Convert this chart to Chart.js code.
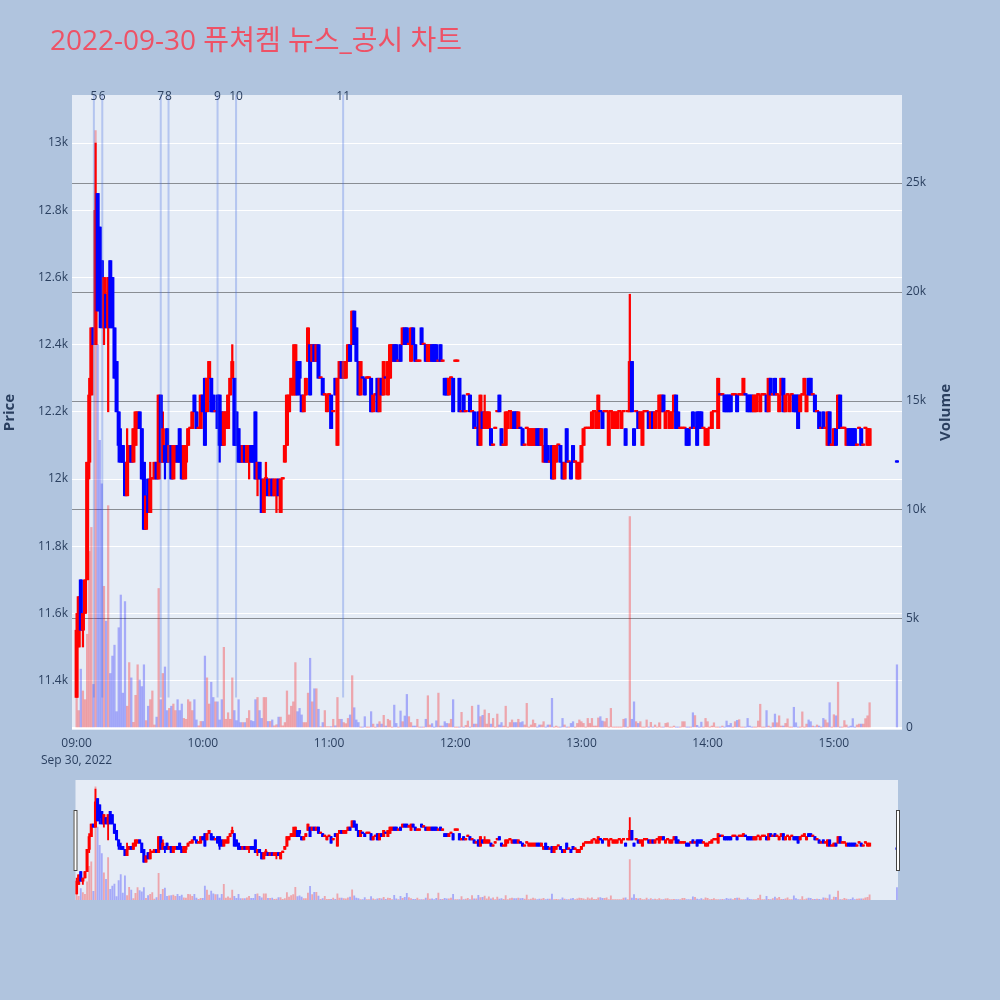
<!DOCTYPE html>
<html>
<head>
<meta charset="utf-8">
<script src="https://cdn.jsdelivr.net/npm/chart.js@4.4.0/dist/chart.umd.min.js"></script>
<style>
    body { margin: 0; background: #b0c4de; }
    #wrap { position: relative; width: 1000px; height: 1000px; }
    canvas { position: absolute; left: 0; }
</style>
</head>
<body>
<div id="wrap">
    <canvas id="main" width="1000" height="1000" style="top:0"></canvas>
    <canvas id="slider" width="1000" height="130" style="top:775px"></canvas>
</div>
<script>
// one candle per minute from 09:00 (index = minutes after the open)
const opens = [
    11350,11500,11700,11550,11600,11700,12050,12250,12450,12400,
    12850,12750,12650,12450,12550,12450,12650,12600,12450,12350,
    12200,12100,12100,12050,11950,12050,12100,12050,12100,12150,
    12200,12150,12050,11850,12000,11900,12000,12000,12050,12000,
    12250,12050,12100,12150,12050,12100,12000,12050,12100,12150,
    12050,12000,12050,12100,12150,12150,12250,12200,12150,12150,
    12250,12300,12200,12300,12300,12250,12200,12250,12250,12200,
    12100,12150,12150,12250,12300,12300,12200,12150,12100,12050,
    12100,12050,12050,12100,12100,12200,12000,12050,12000,11900,
    12000,12000,11950,12000,11950,11950,12000,11900,12000,12050,
    12100,12200,12250,12250,12250,12350,12350,12250,12200,12250,
    12350,12400,12350,12400,12350,12400,12300,12300,12250,12200,
    12250,12250,12200,12300,12100,12300,12350,12300,12300,12350,
    12400,12400,12500,12450,12350,12250,12300,12300,12300,12300,
    12300,12200,12250,12300,12200,12300,12250,12300,12250,12300,
    12350,12400,12400,12350,12400,12400,12450,12450,12400,12350,
    12450,12400,12350,12350,12450,12400,12400,12350,12350,12400,
    12400,12400,12350,12400,12350,12300,12300,12250,12300,12300,
    12350,12350,12300,12200,12250,12200,12250,12250,12200,12200,
    12150,12200,12100,12200,12150,12150,12150,12150,12100,12150,
    12200,12250,12150,12100,12100,12150,12200,12150,12200,12200,
    12150,12150,12150,12100,12150,12100,12100,12100,12100,12150,
    12150,12100,12050,12150,12100,12050,12100,12000,12050,12100,
    12100,12050,12000,12150,12050,12050,12100,12050,12000,12000,
    12050,12100,12150,12150,12150,12150,12200,12150,12150,12200,
    12200,12200,12200,12100,12200,12150,12150,12150,12200,12150,
    12200,12150,12200,12200,12350,12150,12200,12200,12150,12100,
    12200,12200,12200,12150,12200,12150,12200,12150,12200,12250,
    12150,12200,12150,12150,12200,12250,12200,12150,12150,12150,
    12150,12150,12150,12200,12150,12200,12200,12200,12150,12100,
    12100,12150,12150,12200,12200,12150,12250,12250,12250,12250,
    12250,12250,12250,12250,12250,12250,12250,12250,12250,12250,
    12250,12250,12200,12200,12250,12200,12250,12250,12250,12200,
    12300,12250,12300,12250,12200,12250,12300,12200,12250,12200,
    12250,12250,12250,12250,12200,12250,12250,12200,12300,12300,
    12250,12250,12200,12200,12150,12200,12150,12100,12200,12100,
    12100,12150,12150,12250,12150,12150,12100,12150,12150,12150,
    12150,12100,12150,12150,12100,12150,12100,12100
];
const highs = [
    11600,11650,11700,11600,11700,12050,12300,12450,12450,13000,
    12850,12750,12650,12600,12550,12600,12650,12600,12450,12350,
    12200,12150,12100,12050,12150,12100,12100,12150,12200,12200,
    12200,12150,12050,11950,12000,12050,12000,12050,12050,12250,
    12250,12200,12100,12150,12100,12100,12100,12100,12100,12150,
    12100,12100,12100,12150,12150,12200,12250,12200,12150,12250,
    12250,12300,12300,12350,12300,12250,12200,12250,12250,12200,
    12200,12200,12250,12300,12400,12300,12200,12150,12100,12100,
    12100,12100,12100,12100,12100,12200,12050,12050,12000,12000,
    12050,12000,12000,12000,12000,12000,12000,12000,12000,12100,
    12250,12250,12300,12400,12400,12350,12350,12250,12250,12300,
    12450,12400,12400,12400,12400,12400,12300,12300,12250,12250,
    12250,12250,12200,12300,12300,12350,12350,12350,12350,12400,
    12400,12500,12500,12450,12350,12350,12300,12300,12300,12300,
    12300,12250,12250,12300,12300,12300,12350,12300,12350,12400,
    12400,12400,12400,12350,12400,12450,12450,12450,12400,12450,
    12450,12400,12350,12350,12450,12400,12400,12400,12400,12400,
    12400,12400,12350,12400,12350,12300,12300,12300,12300,12300,
    12350,12350,12300,12200,12250,12200,12250,12250,12200,12200,
    12150,12200,12250,12200,12250,12200,12200,12150,12100,12150,
    12200,12250,12150,12100,12200,12200,12200,12200,12200,12200,
    12200,12150,12150,12100,12150,12150,12150,12150,12150,12150,
    12150,12150,12100,12150,12100,12050,12100,12100,12100,12100,
    12100,12050,12050,12150,12050,12050,12100,12050,12050,12050,
    12100,12150,12150,12150,12150,12200,12200,12200,12250,12200,
    12200,12200,12200,12200,12200,12200,12200,12200,12200,12200,
    12200,12150,12200,12550,12350,12150,12200,12200,12200,12200,
    12200,12200,12200,12200,12200,12200,12200,12250,12250,12250,
    12200,12200,12200,12200,12250,12250,12200,12150,12150,12150,
    12150,12150,12150,12200,12150,12200,12200,12200,12150,12150,
    12150,12150,12200,12200,12200,12300,12250,12250,12250,12250,
    12250,12250,12250,12250,12250,12250,12250,12300,12250,12250,
    12250,12250,12250,12250,12250,12250,12250,12250,12250,12300,
    12300,12250,12300,12250,12250,12300,12300,12250,12250,12250,
    12250,12250,12250,12250,12250,12250,12300,12250,12300,12300,
    12250,12250,12200,12200,12150,12200,12150,12200,12200,12100,
    12150,12150,12250,12250,12150,12150,12150,12150,12150,12150,
    12150,12100,12150,12150,12100,12150,12150,12150
];
const lows = [
    11350,11500,11550,11500,11600,11700,12000,12250,12400,12400,
    12500,12450,12450,12400,12450,12200,12450,12450,12300,12200,
    12050,12050,12050,11950,11950,12050,12050,12050,12100,12150,
    12150,12000,11850,11850,11900,11900,12000,12000,12000,12000,
    12050,12050,12000,12050,12050,12000,12000,12050,12050,12050,
    12000,12000,12000,12100,12150,12150,12200,12150,12150,12150,
    12200,12100,12200,12300,12200,12200,12200,12150,12050,12100,
    12100,12150,12150,12250,12300,12100,12100,12050,12050,12050,
    12050,12050,12000,12050,12050,12000,11950,12000,11900,11900,
    11950,11950,11950,11950,11950,11900,11950,11900,12000,12050,
    12100,12200,12250,12250,12250,12250,12250,12200,12200,12250,
    12350,12250,12350,12350,12350,12300,12300,12250,12250,12200,
    12250,12150,12200,12250,12100,12300,12300,12300,12300,12350,
    12350,12400,12400,12350,12250,12250,12300,12250,12300,12300,
    12200,12200,12250,12200,12200,12250,12250,12300,12250,12300,
    12350,12350,12350,12350,12350,12400,12400,12400,12400,12350,
    12400,12350,12350,12350,12400,12400,12350,12350,12350,12350,
    12350,12350,12350,12350,12350,12250,12250,12250,12300,12200,
    12350,12350,12200,12200,12200,12200,12250,12200,12200,12150,
    12150,12100,12100,12150,12150,12150,12150,12100,12100,12150,
    12200,12200,12100,12100,12100,12150,12200,12150,12150,12150,
    12150,12150,12100,12100,12150,12100,12100,12100,12100,12100,
    12100,12100,12050,12050,12050,12050,12000,12000,12050,12100,
    12050,12000,12000,12050,12050,12000,12050,12050,12000,12000,
    12050,12100,12150,12150,12150,12150,12200,12150,12150,12200,
    12150,12200,12200,12100,12200,12150,12150,12150,12200,12150,
    12200,12100,12200,12200,12200,12100,12200,12150,12150,12100,
    12200,12200,12150,12150,12150,12150,12200,12150,12200,12200,
    12150,12200,12150,12150,12200,12150,12150,12150,12150,12150,
    12100,12100,12150,12150,12150,12100,12150,12150,12150,12100,
    12100,12150,12150,12200,12200,12150,12250,12250,12200,12200,
    12200,12200,12250,12250,12200,12250,12250,12250,12250,12200,
    12200,12200,12200,12200,12250,12200,12250,12250,12200,12200,
    12250,12250,12250,12250,12200,12250,12200,12200,12250,12200,
    12250,12200,12200,12150,12200,12250,12250,12200,12250,12250,
    12250,12200,12200,12150,12150,12150,12150,12100,12100,12100,
    12100,12100,12150,12150,12150,12150,12100,12100,12100,12100,
    12100,12100,12150,12100,12100,12150,12100,12100
];
const closes = [
    11550,11650,11550,11600,11700,12050,12250,12450,12400,12800,
    12500,12550,12450,12600,12450,12600,12450,12450,12300,12200,
    12100,12050,12050,11950,12050,12100,12050,12150,12200,12200,
    12150,12000,11850,11950,11900,12000,12000,12050,12000,12250,
    12050,12150,12050,12050,12100,12000,12100,12100,12050,12050,
    12000,12100,12100,12150,12150,12200,12200,12150,12150,12250,
    12200,12100,12300,12350,12200,12200,12200,12150,12100,12100,
    12200,12200,12250,12300,12350,12100,12100,12050,12050,12100,
    12050,12100,12100,12050,12050,12000,12050,12000,11900,12000,
    12000,11950,12000,11950,12000,12000,11950,12000,12000,12100,
    12250,12250,12300,12300,12400,12250,12300,12200,12250,12300,
    12450,12250,12400,12350,12400,12300,12300,12250,12250,12250,
    12250,12150,12200,12250,12300,12350,12300,12350,12350,12400,
    12350,12500,12400,12350,12250,12350,12300,12250,12300,12300,
    12200,12250,12250,12200,12300,12250,12350,12300,12350,12400,
    12400,12350,12350,12350,12350,12450,12400,12400,12400,12450,
    12400,12350,12350,12350,12400,12400,12350,12400,12400,12350,
    12350,12350,12350,12350,12350,12250,12250,12300,12300,12200,
    12350,12350,12200,12200,12200,12200,12250,12200,12200,12150,
    12150,12100,12250,12150,12200,12200,12200,12100,12100,12150,
    12200,12200,12100,12100,12200,12200,12200,12200,12150,12150,
    12200,12150,12100,12100,12150,12150,12150,12150,12150,12100,
    12100,12150,12100,12050,12050,12050,12000,12100,12100,12100,
    12050,12000,12050,12050,12050,12000,12050,12050,12050,12050,
    12100,12150,12150,12150,12150,12200,12200,12200,12250,12200,
    12150,12200,12200,12200,12200,12200,12200,12200,12200,12200,
    12200,12100,12200,12350,12200,12100,12200,12150,12200,12200,
    12200,12200,12150,12200,12150,12200,12200,12250,12250,12200,
    12200,12200,12200,12200,12250,12150,12150,12150,12150,12150,
    12100,12100,12150,12150,12150,12100,12150,12150,12150,12150,
    12150,12150,12200,12200,12200,12300,12250,12250,12200,12200,
    12200,12200,12250,12250,12200,12250,12250,12300,12250,12200,
    12200,12200,12250,12250,12250,12250,12250,12250,12200,12300,
    12250,12250,12250,12250,12250,12300,12200,12250,12250,12250,
    12250,12200,12200,12150,12250,12250,12300,12250,12250,12250,
    12250,12200,12200,12150,12150,12150,12150,12200,12100,12100,
    12150,12100,12250,12150,12150,12150,12150,12100,12100,12100,
    12100,12100,12150,12100,12100,12150,12150,12150
];
const volumes = [
    1360,800,2700,1700,1300,4300,8100,9200,2000,27400,
    17600,13200,11200,6500,4900,10200,2500,3300,3800,750,
    4600,6100,1600,5800,1000,3000,2300,260,1500,2900,
    2200,1900,2900,340,1000,1300,1700,140,500,6400,
    1300,2500,2800,800,900,1000,1100,800,1300,800,
    1100,440,400,1300,1200,800,1300,370,100,300,
    300,3300,2300,1100,2100,1400,1200,1200,370,1300,
    3700,400,700,400,2300,800,340,1300,250,250,
    250,440,800,340,300,1300,1400,800,440,1400,
    1400,300,300,370,100,150,500,500,100,250,
    1700,600,1000,1200,3000,750,900,600,250,250,
    1600,3200,1200,1800,1800,860,60,250,800,60,
    60,60,400,100,1400,400,400,250,200,440,
    600,2400,930,370,250,30,30,520,30,30,
    750,180,30,180,290,180,580,90,400,340,
    30,1050,210,30,780,290,550,1540,520,250,
    90,90,400,30,30,30,400,1480,140,200,
    30,330,1600,90,90,290,210,200,400,1300,
    30,30,30,720,30,120,320,30,1000,180,
    180,1050,520,580,830,180,670,180,440,30,
    640,140,250,90,1000,30,250,370,250,250,
    400,250,290,140,1130,30,140,370,210,30,
    140,140,290,30,140,140,1360,30,90,30,
    30,440,140,30,30,210,290,30,210,370,
    290,210,30,440,210,440,90,90,460,520,
    320,290,440,30,900,30,30,30,30,30,
    400,430,30,9700,400,1200,290,210,290,30,
    30,370,30,260,30,140,30,240,30,30,
    210,240,30,30,90,30,30,30,290,290,
    30,30,30,700,570,120,30,270,30,440,
    290,30,90,240,30,30,30,90,30,320,
    120,210,30,290,350,380,30,30,30,440,
    90,30,30,30,320,1090,30,30,800,90,
    30,240,640,240,560,90,90,210,420,30,
    30,950,240,30,30,740,30,180,370,290,
    90,60,140,90,30,440,370,240,1160,30,
    610,560,2100,30,30,340,140,30,90,430,
    30,140,180,180,180,430,560,1160
];
// 15:30 closing auction
const auctionMinute = 390;
const auctionPrice = 12050;
const auctionVolume = 2900;

// news / disclosure markers (minutes after 09:00)
const newsMinutes = [8.2, 12.2, 40, 43.7, 67, 75.8, 126.7];
const newsLabels = ["5", "6", "7", "8", "9", "10", "11"];

const titleText = "2022-09-30 퓨쳐켐 뉴스_공시 차트";
const timeTicks = ["09:00", "10:00", "11:00", "12:00", "13:00", "14:00", "15:00"];
const dateLabel = "Sep 30, 2022";
const volumeTicks = [0, 5000, 10000, 15000, 20000, 25000];

const RED = "#ff0000", BLUE = "#0000ff";
const VRED = "rgba(255, 0, 0, 0.3)", VBLUE = "rgba(0, 0, 255, 0.28)";
const FONT = '"Open Sans", "Noto Sans CJK KR", sans-serif';
const INK = "#2a3f5f";

Chart.defaults.font.family = FONT;
Chart.defaults.color = INK;

function isUp(i) {
    if (closes[i] !== opens[i]) return closes[i] > opens[i];
    return i === 0 || closes[i] >= closes[i - 1];
}

function buildSets(bodyW, wickW, volW) {
    const idx = opens.map((o, i) => i);
    const col = idx.map(i => isUp(i) ? RED : BLUE).concat([BLUE]);
    const vcol = idx.map(i => isUp(i) ? VRED : VBLUE).concat([VBLUE]);
    return [{
        yAxisID: "yv",
        order: 3,
        grouped: false,
        barThickness: volW,
        backgroundColor: vcol,
        data: idx.map(i => ({x: i, y: volumes[i]})).concat([{x: auctionMinute, y: auctionVolume}])
    }, {
        yAxisID: "y",
        order: 2,
        grouped: false,
        barThickness: wickW,
        minBarLength: 1.5,
        backgroundColor: col,
        data: idx.map(i => ({x: i, y: [lows[i], highs[i]]})).concat([{x: auctionMinute, y: [auctionPrice, auctionPrice]}])
    }, {
        yAxisID: "y",
        order: 1,
        grouped: false,
        barThickness: bodyW,
        minBarLength: 1.5,
        backgroundColor: col,
        data: idx.map(i => ({x: i, y: [opens[i], closes[i]]})).concat([{x: auctionMinute, y: [auctionPrice, auctionPrice]}])
    }];
}

const PRICE_MIN = 11253, PRICE_MAX = 13143;
const VOL_MIN = -92, VOL_MAX = 29037;
const X_MIN = -2.2, X_MAX = 392.4;

const mainDecor = {
    id: "mainDecor",
    beforeDraw(chart) {
        const {ctx, chartArea: a} = chart;
        ctx.save();
        ctx.fillStyle = "#b0c4de";
        ctx.fillRect(0, 0, chart.width, chart.height);
        ctx.fillStyle = "#e5ecf6";
        ctx.fillRect(a.left, a.top, a.right - a.left, a.bottom - a.top);
        ctx.restore();
    },
    afterDatasetsDraw(chart) {
        const {ctx, chartArea: a, scales} = chart;
        const bottom = scales.y.getPixelForValue(Math.min(...lows));
        ctx.save();
        ctx.strokeStyle = "rgba(65, 105, 225, 0.3)";
        ctx.lineWidth = 2;
        newsMinutes.forEach(m => {
            const x = scales.x.getPixelForValue(m);
            ctx.beginPath();
            ctx.moveTo(x, a.top);
            ctx.lineTo(x, bottom);
            ctx.stroke();
        });
        ctx.restore();
    },
    afterDraw(chart) {
        const {ctx, chartArea: a, scales} = chart;
        ctx.save();
        ctx.fillStyle = "rgb(238, 82, 102)";
        ctx.font = "28px " + FONT;
        ctx.textBaseline = "middle";
        ctx.textAlign = "left";
        ctx.fillText(titleText, 50, 42);

        ctx.fillStyle = INK;
        ctx.font = "12px " + FONT;
        ctx.textAlign = "center";
        newsMinutes.forEach((m, i) => {
            ctx.fillText(newsLabels[i], scales.x.getPixelForValue(m), a.top + 2);
        });

        ctx.font = "bold 15px " + FONT;
        const mid = (a.top + a.bottom) / 2;
        ctx.translate(10, mid);
        ctx.rotate(-Math.PI / 2);
        ctx.fillText("Price", 0, 0);
        ctx.setTransform(1, 0, 0, 1, 0, 0);
        ctx.translate(946, mid);
        ctx.rotate(-Math.PI / 2);
        ctx.fillText("Volume", 0, 0);
        ctx.restore();
    }
};

new Chart("main", {
    type: "bar",
    data: {datasets: buildSets(3.4, 1.6, 1.6)},
    options: {
        responsive: false,
        animation: false,
        devicePixelRatio: 1,
        layout: {padding: {top: 95, left: 0, right: 0, bottom: 0}},
        plugins: {legend: {display: false}, tooltip: {enabled: false}},
        scales: {
            x: {
                type: "linear",
                offset: false,
                min: X_MIN,
                max: X_MAX,
                grid: {display: false, drawTicks: false},
                border: {display: false},
                ticks: {
                    stepSize: 60,
                    includeBounds: false,
                    autoSkip: false,
                    maxRotation: 0,
                    padding: 5,
                    font: {size: 12, lineHeight: 1.4},
                    callback: (v) => {
                        const label = timeTicks[v / 60];
                        return v === 0 ? [label, dateLabel] : label;
                    }
                },
                afterFit: (s) => { s.height = 270; }
            },
            y: {
                position: "left",
                min: PRICE_MIN,
                max: PRICE_MAX,
                grid: {color: "#ffffff", drawTicks: false},
                border: {display: false},
                ticks: {
                    stepSize: 200,
                    includeBounds: false,
                    padding: 4,
                    font: {size: 12},
                    callback: (v) => `${v / 1000}k`
                },
                afterFit: (s) => { s.width = 72; }
            },
            yv: {
                position: "right",
                min: VOL_MIN,
                max: VOL_MAX,
                grid: {
                    color: (c) => (c.tick && c.tick.value === 0) ? "#ffffff" : "rgba(0, 0, 0, 0.4)",
                    lineWidth: (c) => (c.tick && c.tick.value === 0) ? 2 : 1,
                    drawTicks: false
                },
                border: {display: false},
                afterBuildTicks: (s) => { s.ticks = volumeTicks.map(v => ({value: v})); },
                ticks: {
                    padding: 4,
                    font: {size: 12},
                    callback: (v) => v === 0 ? "0" : `${v / 1000}k`
                },
                afterFit: (s) => { s.width = 98; }
            }
        }
    },
    plugins: [mainDecor]
});

const sliderDecor = {
    id: "sliderDecor",
    beforeDraw(chart) {
        const {ctx, chartArea: a} = chart;
        ctx.save();
        ctx.fillStyle = "#e5ecf6";
        ctx.fillRect(a.left, a.top, a.right - a.left, a.bottom - a.top);
        ctx.restore();
    },
    afterDraw(chart) {
        const {ctx, chartArea: a} = chart;
        ctx.save();
        ctx.fillStyle = "#ffffff";
        ctx.strokeStyle = "#444444";
        ctx.lineWidth = 1;
        [a.left - 2, a.right - 2].forEach(x => {
            ctx.fillRect(x, 35, 4, 61);
            ctx.strokeRect(x + 0.5, 35.5, 3, 60);
        });
        ctx.restore();
    }
};

new Chart("slider", {
    type: "bar",
    data: {datasets: buildSets(2.4, 1.2, 1.2)},
    options: {
        responsive: false,
        animation: false,
        devicePixelRatio: 1,
        layout: {padding: {top: 5, left: 75.5, right: 102, bottom: 5}},
        plugins: {legend: {display: false}, tooltip: {enabled: false}},
        scales: {
            x: {type: "linear", offset: false, min: -0.5, max: 390.5, display: false},
            y: {min: PRICE_MIN, max: PRICE_MAX, display: false},
            yv: {position: "right", min: VOL_MIN, max: VOL_MAX, display: false}
        }
    },
    plugins: [sliderDecor]
});
</script>
</body>
</html>
